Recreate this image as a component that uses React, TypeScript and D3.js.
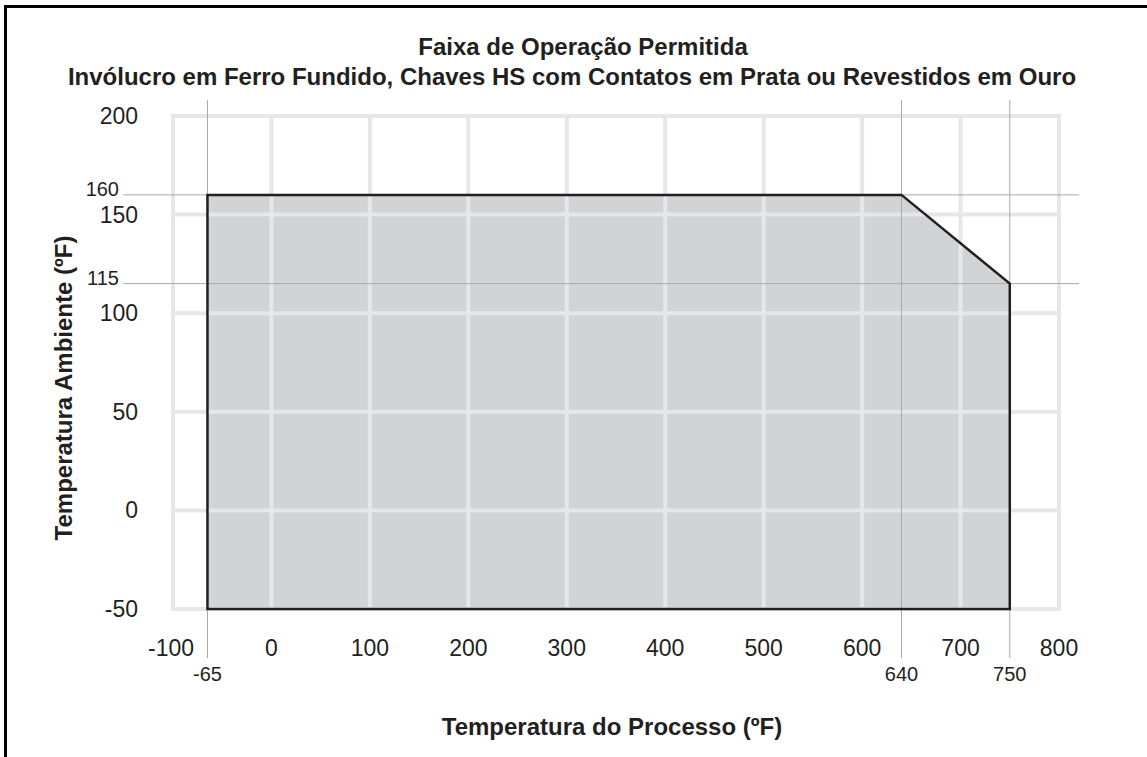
import React from "react";
import * as d3 from "d3";

const xTicks = [-100, 0, 100, 200, 300, 400, 500, 600, 700, 800];
const yTicks = [-50, 0, 50, 100, 150, 200];
const refX = [-65, 640, 750];
const refY = [160, 115];
const envelope: [number, number][] = [
  [-65, -50],
  [-65, 160],
  [640, 160],
  [750, 115],
  [750, -50],
];

const titleLines = [
  "Faixa de Operação Permitida",
  "Invólucro em Ferro Fundido, Chaves HS com Contatos em Prata ou Revestidos em Ouro",
];
const xTitle = "Temperatura do Processo (ºF)";
const yTitle = "Temperatura Ambiente (ºF)";

const W = 1147;
const H = 757;
const font = "'Liberation Sans', Arial, Helvetica, sans-serif";

const App = () => {
  const x = d3.scaleLinear().domain([-100, 800]).range([173, 1059]);
  const y = d3.scaleLinear().domain([-50, 200]).range([609, 116]);
  const area = d3.line<[number, number]>().x((d) => x(d[0])).y((d) => y(d[1]));

  return (
    <svg width={W} height={H} style={{ position: "absolute", left: 0, top: 0 }} fontFamily={font}>
      <rect x={0} y={0} width={W} height={H} fill="#fff" />
      {/* frame: only left and top edges fall inside the picture */}
      <rect x={5.5} y={6.5} width={W + 20} height={H + 20} fill="none" stroke="#000" strokeWidth={3} />

      <path d={area(envelope) + "Z"} fill="#d1d3d4" />

      <g stroke="#e6e7e8" strokeWidth={4}>
        {xTicks.map((t) => (
          <line key={"gx" + t} x1={x(t)} x2={x(t)} y1={y(200) - 2} y2={y(-50) + 2} />
        ))}
        {yTicks.map((t) => (
          <line key={"gy" + t} x1={x(-100) - 2} x2={x(800) + 2} y1={y(t)} y2={y(t)} />
        ))}
      </g>

      <g stroke="#a7a9ac" strokeWidth={1}>
        {refX.map((t) => (
          <line key={"rx" + t} x1={x(t)} x2={x(t)} y1={100} y2={658} />
        ))}
        {refY.map((t) => (
          <line key={"ry" + t} x1={123} x2={1079} y1={y(t)} y2={y(t)} />
        ))}
      </g>

      <path d={area(envelope) + "Z"} fill="none" stroke="#231f20" strokeWidth={2.5} strokeLinejoin="miter" />

      <g fontSize={23} fill="#231f20" textAnchor="end">
        {yTicks.map((t) => (
          <text key={"ty" + t} x={138} y={y(t) + 8}>
            {t}
          </text>
        ))}
      </g>
      <g fontSize={20} fill="#231f20" textAnchor="end">
        {refY.map((t) => (
          <text key={"tr" + t} x={119} y={y(t) + 1}>
            {t}
          </text>
        ))}
      </g>
      <g fontSize={23} fill="#231f20" textAnchor="middle">
        {xTicks.map((t) => (
          <text key={"tx" + t} x={t === -100 ? x(t) - 2 : x(t)} y={656}>
            {t}
          </text>
        ))}
      </g>
      <g fontSize={20} fill="#231f20" textAnchor="middle">
        {refX.map((t) => (
          <text key={"trx" + t} x={x(t)} y={681}>
            {t}
          </text>
        ))}
      </g>

      <g fontSize={24} fontWeight="bold" fill="#231f20" textAnchor="middle">
        <text x={583} y={55}>
          {titleLines[0]}
        </text>
        <text x={572} y={85}>
          {titleLines[1]}
        </text>
        <text x={612} y={735}>
          {xTitle}
        </text>
        <text transform={`translate(72,388) rotate(-90)`}>{yTitle}</text>
      </g>
    </svg>
  );
};

export default App;
